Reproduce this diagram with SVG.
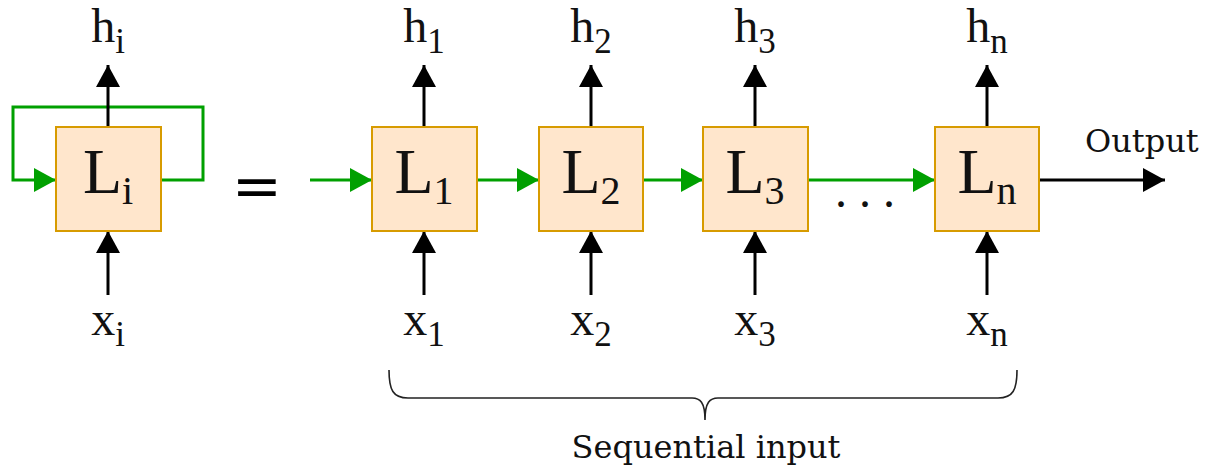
<svg xmlns="http://www.w3.org/2000/svg" width="1210" height="470" viewBox="0 0 1210 470">
<style>
.box{fill:#FFE6CC;stroke:#D79B00;stroke-width:2}
.m{font-family:"Liberation Serif",serif;fill:#111}
.t{font-family:"DejaVu Serif",serif;font-size:32px;fill:#111}
.k{stroke:#000;stroke-width:3;fill:none}
.g{stroke:#00A000;stroke-width:3;fill:none}
</style>
<defs>
<marker id="ab" markerUnits="userSpaceOnUse" viewBox="0 0 22 24" refX="22" refY="12" markerWidth="22" markerHeight="24" orient="auto"><path d="M0,0 L22,12 L0,24 Z" fill="#000"/></marker>
<marker id="ag" markerUnits="userSpaceOnUse" viewBox="0 0 22 24" refX="22" refY="12" markerWidth="22" markerHeight="24" orient="auto"><path d="M0,0 L22,12 L0,24 Z" fill="#00A000"/></marker>
</defs>
<rect width="1210" height="470" fill="#fff"/>
<g id="connectors">
<path class="g" d="M161,180 H203 V107 H13 V180 H56" marker-end="url(#ag)"/>
<line class="k" x1="108" y1="127" x2="108" y2="65" marker-end="url(#ab)"/>
<line class="k" x1="108" y1="295" x2="108" y2="231" marker-end="url(#ab)"/>
<line class="g" x1="310" y1="180" x2="372" y2="180" marker-end="url(#ag)"/>
<line class="g" x1="477" y1="180" x2="539" y2="180" marker-end="url(#ag)"/>
<line class="g" x1="643" y1="180" x2="703" y2="180" marker-end="url(#ag)"/>
<line class="g" x1="808" y1="180" x2="935" y2="180" marker-end="url(#ag)"/>
<line class="k" x1="1039" y1="180" x2="1165" y2="180" marker-end="url(#ab)"/>
<line class="k" x1="424" y1="127" x2="424" y2="65" marker-end="url(#ab)"/>
<line class="k" x1="424" y1="295" x2="424" y2="231" marker-end="url(#ab)"/>
<line class="k" x1="591" y1="127" x2="591" y2="65" marker-end="url(#ab)"/>
<line class="k" x1="591" y1="295" x2="591" y2="231" marker-end="url(#ab)"/>
<line class="k" x1="755" y1="127" x2="755" y2="65" marker-end="url(#ab)"/>
<line class="k" x1="755" y1="295" x2="755" y2="231" marker-end="url(#ab)"/>
<line class="k" x1="987" y1="127" x2="987" y2="65" marker-end="url(#ab)"/>
<line class="k" x1="987" y1="295" x2="987" y2="231" marker-end="url(#ab)"/>
</g>
<g id="Li">
<rect class="box" x="56" y="127" width="105" height="104"/>
<text class="m" x="108" y="193" font-size="64" text-anchor="middle">L<tspan font-size="40" dy="11">i</tspan></text>
<text class="m" x="108" y="42" font-size="48" text-anchor="middle">h<tspan font-size="35" dy="11">i</tspan></text>
<text class="m" x="108" y="335" font-size="48" text-anchor="middle">x<tspan font-size="35" dy="11">i</tspan></text>
</g>
<g id="equals"><text x="257" y="206" font-family="DejaVu Serif, serif" font-size="60" text-anchor="middle">=</text></g>
<g id="L1">
<rect class="box" x="372" y="127" width="105" height="104"/>
<text class="m" x="424" y="193" font-size="64" text-anchor="middle">L<tspan font-size="40" dy="11">1</tspan></text>
<text class="m" x="424" y="42" font-size="48" text-anchor="middle">h<tspan font-size="35" dy="11">1</tspan></text>
<text class="m" x="424" y="335" font-size="48" text-anchor="middle">x<tspan font-size="35" dy="11">1</tspan></text>
</g>
<g id="L2">
<rect class="box" x="539" y="127" width="104" height="104"/>
<text class="m" x="591" y="193" font-size="64" text-anchor="middle">L<tspan font-size="40" dy="11">2</tspan></text>
<text class="m" x="591" y="42" font-size="48" text-anchor="middle">h<tspan font-size="35" dy="11">2</tspan></text>
<text class="m" x="591" y="335" font-size="48" text-anchor="middle">x<tspan font-size="35" dy="11">2</tspan></text>
</g>
<g id="L3">
<rect class="box" x="703" y="127" width="105" height="104"/>
<text class="m" x="755" y="193" font-size="64" text-anchor="middle">L<tspan font-size="40" dy="11">3</tspan></text>
<text class="m" x="755" y="42" font-size="48" text-anchor="middle">h<tspan font-size="35" dy="11">3</tspan></text>
<text class="m" x="755" y="335" font-size="48" text-anchor="middle">x<tspan font-size="35" dy="11">3</tspan></text>
</g>
<g id="dots"><text class="m" x="871" y="207" font-size="48" text-anchor="middle" letter-spacing="12">...</text></g>
<g id="Ln">
<rect class="box" x="935" y="127" width="104" height="104"/>
<text class="m" x="987" y="193" font-size="64" text-anchor="middle">L<tspan font-size="40" dy="11">n</tspan></text>
<text class="m" x="987" y="42" font-size="48" text-anchor="middle">h<tspan font-size="35" dy="11">n</tspan></text>
<text class="m" x="987" y="335" font-size="48" text-anchor="middle">x<tspan font-size="35" dy="11">n</tspan></text>
</g>
<g id="output"><text class="t" x="1085" y="152">Output</text></g>
<g id="brace"><path d="M389,370 C389,390 393,398 408,398 L692,398 C700,398 705,402 705,420 C705,402 710,398 718,398 L998,398 C1013,398 1017,390 1017,370" fill="none" stroke="#222" stroke-width="1.6"/></g>
<g id="seq"><text class="t" x="706" y="458" text-anchor="middle">Sequential input</text></g>
</svg>
